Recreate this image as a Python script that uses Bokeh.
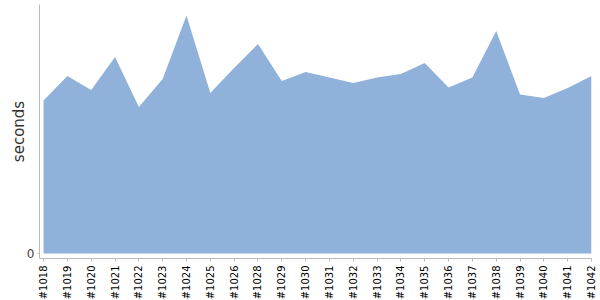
from bokeh.plotting import figure
from bokeh.models import Range1d, FixedTicker
from bokeh.embed import file_html
from bokeh.resources import INLINE

builds = ["#1018", "#1019", "#1020", "#1021", "#1022", "#1023", "#1024", "#1025",
          "#1026", "#1028", "#1029", "#1030", "#1031", "#1032", "#1033", "#1034",
          "#1035", "#1036", "#1037", "#1038", "#1039", "#1040", "#1041", "#1042"]
seconds = [76.5, 88.8, 81.8, 98.3, 73.2, 87.3, 119.0, 80.2,
           92.7, 104.8, 86.2, 90.7, 88.0, 85.2, 88.0, 89.7,
           95.2, 83.0, 88.0, 111.3, 79.5, 77.7, 82.8, 88.8]

xs = list(range(len(builds)))

p = figure(frame_width=552, frame_height=254, output_backend="svg", toolbar_location=None,
           x_range=Range1d(-0.17, len(builds) - 1), y_range=Range1d(-2.5, 124.5),
           min_border_left=39, min_border_right=9, min_border_top=4, min_border_bottom=0)
p.outline_line_color = None
p.xgrid.visible = False
p.ygrid.visible = False
p.background_fill_color = "white"
p.border_fill_color = "white"

p.varea(x=xs, y1=[0] * len(xs), y2=seconds, fill_color="#8fb1da", fill_alpha=1.0)

xa = p.xaxis[0]
xa.ticker = FixedTicker(ticks=xs)
xa.major_label_overrides = {i: b for i, b in enumerate(builds)}
xa.major_label_orientation = 3.14159265 / 2
xa.major_label_text_font = "DejaVu Sans"
xa.major_label_text_font_size = "10px"
xa.major_label_text_color = "#000000"
xa.axis_line_color = "#bbbbbb"
xa.major_tick_line_color = "#bbbbbb"
xa.major_tick_out = 3
xa.major_tick_in = 0
xa.minor_tick_line_color = None
xa.major_label_standoff = 4

ya = p.yaxis[0]
ya.ticker = FixedTicker(ticks=[0])
ya.axis_label = "seconds"
ya.axis_label_text_font = "DejaVu Sans"
ya.axis_label_text_font_size = "15px"
ya.axis_label_text_font_style = "normal"
ya.axis_label_text_color = "#333333"
ya.axis_label_standoff = -4
ya.major_label_text_font = "DejaVu Sans"
ya.major_label_text_font_size = "12px"
ya.major_label_text_color = "#444444"
ya.axis_line_color = "#bbbbbb"
ya.major_tick_line_color = "#bbbbbb"
ya.major_tick_out = 2
ya.major_tick_in = 0
ya.minor_tick_line_color = None
ya.major_label_standoff = 3

open("out.html", "w").write(file_html(p, INLINE))
